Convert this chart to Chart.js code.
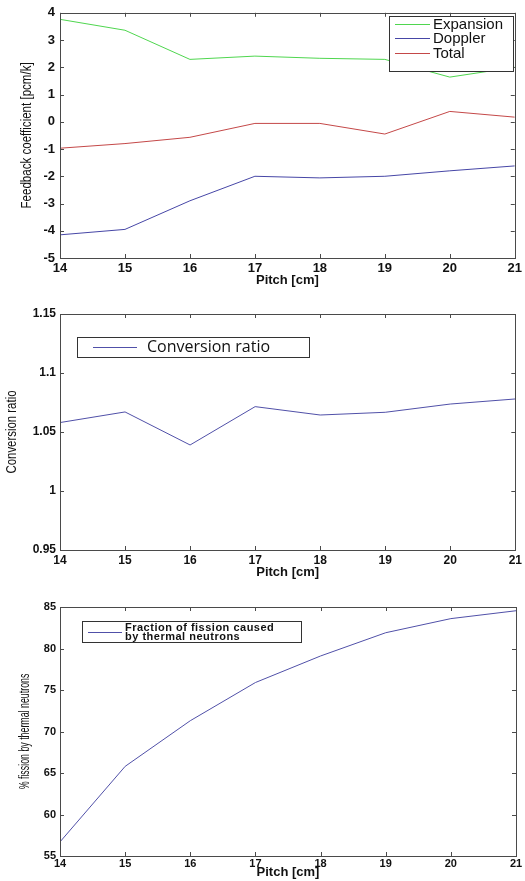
<!DOCTYPE html>
<html>
<head>
<meta charset="utf-8">
<script src="https://cdn.jsdelivr.net/npm/chart.js@4.4.0/dist/chart.umd.min.js"></script>
<style>
  html, body { margin: 0; padding: 0; background: #fff; }
  #wrap { position: relative; width: 525px; height: 881px; }
  .panel { position: absolute; left: 0; width: 525px; }
</style>
</head>
<body>
<div id="wrap">
  <div class="panel" style="top:0;height:290px"><canvas id="feedback"></canvas></div>
  <div class="panel" style="top:290px;height:290px"><canvas id="conversion"></canvas></div>
  <div class="panel" style="top:580px;height:301px"><canvas id="fraction"></canvas></div>
</div>
<script>
"use strict";

// values
const pitch = [14, 15, 16, 17, 18, 19, 20, 21];
const expansion = [3.76, 3.36, 2.29, 2.41, 2.33, 2.29, 1.64, 2.0];
const doppler = [-4.15, -3.95, -2.9, -2.0, -2.06, -2.0, -1.8, -1.62];
const total = [-0.97, -0.8, -0.57, -0.06, -0.06, -0.45, 0.38, 0.17];
const conversionRatio = [1.058, 1.067, 1.039, 1.0715, 1.0644, 1.0667, 1.0737, 1.078];
const thermalFraction = [56.7, 65.8, 71.3, 75.9, 79.1, 81.9, 83.6, 84.55];

const feedbackTicks = [-5, -4, -3, -2, -1, 0, 1, 2, 3, 4];
const conversionTicks = [0.95, 1, 1.05, 1.1, 1.15];
const fractionTicks = [55, 60, 65, 70, 75, 80, 85];

Chart.defaults.font.family = "'Liberation Sans', Arial, sans-serif";
Chart.defaults.color = '#111';

const toPoints = arr => pitch.map((p, i) => ({x: p, y: arr[i]}));

// matlab style box with inward ticks on all four sides
const framePlugin = {
  id: 'frame',
  afterDatasetsDraw(chart) {
    const {ctx, chartArea: a, scales: {x, y}} = chart;
    ctx.save();
    ctx.strokeStyle = '#4a4a4a';
    ctx.lineWidth = 1;
    ctx.strokeRect(Math.round(a.left) + 0.5, Math.round(a.top) + 0.5,
                   Math.round(a.width), Math.round(a.height));
    ctx.beginPath();
    x.ticks.forEach(t => {
      const px = Math.round(x.getPixelForValue(t.value)) + 0.5;
      ctx.moveTo(px, a.bottom); ctx.lineTo(px, a.bottom - 4);
      ctx.moveTo(px, a.top); ctx.lineTo(px, a.top + 4);
    });
    y.ticks.forEach(t => {
      const py = Math.round(y.getPixelForValue(t.value)) + 0.5;
      ctx.moveTo(a.left, py); ctx.lineTo(a.left + 4, py);
      ctx.moveTo(a.right, py); ctx.lineTo(a.right - 4, py);
    });
    ctx.stroke();
    ctx.restore();
  }
};

// narrow rotated y title (the original uses a condensed face)
const narrowTitle = {
  id: 'narrowTitle',
  afterDraw(chart, args, o) {
    if (!o.text) return;
    const {ctx, chartArea: a} = chart;
    ctx.save();
    ctx.translate(o.x, (a.top + a.bottom) / 2);
    ctx.rotate(-Math.PI / 2);
    ctx.scale(o.squeeze, 1);
    ctx.font = o.font;
    ctx.fillStyle = '#111';
    ctx.textAlign = 'center';
    ctx.textBaseline = 'middle';
    ctx.fillText(o.text, 0, 0);
    ctx.restore();
  }
};

// legend drawn inside the plot area
const boxLegend = {
  id: 'boxLegend',
  afterDraw(chart, args, o) {
    if (!o.width) return;
    const {ctx, chartArea: a} = chart;
    const bx = Math.round(a.left + o.left), by = Math.round(a.top + o.top);
    ctx.save();
    ctx.fillStyle = '#fff';
    ctx.fillRect(bx, by, o.width, o.height);
    ctx.strokeStyle = '#333';
    ctx.lineWidth = 1;
    ctx.strokeRect(bx + 0.5, by + 0.5, o.width, o.height);
    ctx.font = o.font;
    ctx.textBaseline = 'middle';
    if (o.letterSpacing) ctx.letterSpacing = o.letterSpacing;
    chart.data.datasets.forEach((ds, i) => {
      const cy = Math.round(by + o.firstRow + i * o.rowHeight) + 0.5;
      ctx.strokeStyle = ds.borderColor;
      ctx.beginPath();
      ctx.moveTo(bx + o.lineStart, cy);
      ctx.lineTo(bx + o.lineStart + o.lineLength, cy);
      ctx.stroke();
      const lines = o.text[i];
      ctx.fillStyle = '#111';
      lines.forEach((t, k) => {
        ctx.fillText(t, bx + o.textStart, cy + (k - (lines.length - 1) / 2) * (o.textLine || 0));
      });
    });
    ctx.restore();
  }
};

function fmt(v) {
  return String(+v.toFixed(2));
}

function makeChart(id, datasets, yTicks, cfg) {
  return new Chart(document.getElementById(id), {
    type: 'line',
    data: {datasets: datasets},
    plugins: [framePlugin, boxLegend, narrowTitle],
    options: {
      responsive: true,
      maintainAspectRatio: false,
      animation: false,
      layout: {padding: cfg.padding},
      elements: {
        line: {borderWidth: 1, tension: 0},
        point: {radius: 0}
      },
      scales: {
        x: {
          type: 'linear',
          min: pitch[0],
          max: pitch[pitch.length - 1],
          grid: {display: false, drawTicks: false},
          border: {display: false},
          afterBuildTicks: s => { s.ticks = pitch.map(v => ({value: v})); },
          afterFit: s => { s.height = cfg.xHeight; },
          ticks: {font: {size: cfg.xTickSize, weight: 'bold'}, padding: cfg.xTickPad, callback: fmt, maxRotation: 0},
          title: {display: true, text: 'Pitch [cm]', font: {size: 13, weight: 'bold'},
                  padding: {top: 0, bottom: cfg.xTitlePad}}
        },
        y: {
          type: 'linear',
          min: yTicks[0],
          max: yTicks[yTicks.length - 1],
          grid: {display: false, drawTicks: false},
          border: {display: false},
          afterBuildTicks: s => { s.ticks = yTicks.map(v => ({value: v})); },
          afterFit: s => { s.width = cfg.yWidth; },
          ticks: {font: {size: cfg.yTickSize, weight: 'bold'}, padding: cfg.yTickPad, callback: fmt}
        }
      },
      plugins: {
        legend: {display: false},
        tooltip: {enabled: false},
        boxLegend: cfg.legend,
        narrowTitle: cfg.yTitle
      }
    }
  });
}

makeChart('feedback', [
  {label: 'Expansion', data: toPoints(expansion), borderColor: '#4fd64f'},
  {label: 'Doppler', data: toPoints(doppler), borderColor: '#4646a6'},
  {label: 'Total', data: toPoints(total), borderColor: '#c44848'}
], feedbackTicks, {
  padding: {left: 0, top: 10, right: 9, bottom: 0},
  yWidth: 60, xHeight: 32,
  xTickSize: 13, xTickPad: 3, xTitlePad: 2,
  yTickSize: 13, yTickPad: 5,
  yTitle: {text: 'Feedback coefficient [pcm/k]', font: '15px "Liberation Sans", Arial, sans-serif', x: 27, squeeze: 0.77},
  legend: {
    left: 329, top: 3, width: 124, height: 55,
    firstRow: 7.5, rowHeight: 14.5, lineStart: 6, lineLength: 35, textStart: 44,
    font: '15px "Liberation Sans", Arial, sans-serif',
    text: [['Expansion'], ['Doppler'], ['Total']]
  }
});

makeChart('conversion', [
  {label: 'Conversion ratio', data: toPoints(conversionRatio), borderColor: '#5050a8'}
], conversionTicks, {
  padding: {left: 0, top: 24, right: 9, bottom: 0},
  yWidth: 60, xHeight: 30,
  xTickSize: 12, xTickPad: 3, xTitlePad: 0,
  yTickSize: 12, yTickPad: 4,
  yTitle: {text: 'Conversion ratio', font: '15px "Liberation Sans", Arial, sans-serif', x: 12, squeeze: 0.76},
  legend: {
    left: 17, top: 23, width: 232, height: 20,
    firstRow: 10, rowHeight: 20, lineStart: 16, lineLength: 44, textStart: 70,
    font: '16px "Open Sans", "Noto Sans", sans-serif',
    text: [['Conversion ratio']]
  }
});

makeChart('fraction', [
  {label: 'Fraction of fission caused by thermal neutrons', data: toPoints(thermalFraction), borderColor: '#5050a8'}
], fractionTicks, {
  padding: {left: 0, top: 27, right: 9, bottom: 0},
  yWidth: 60, xHeight: 25,
  xTickSize: 11, xTickPad: 1, xTitlePad: 1,
  yTickSize: 11, yTickPad: 4,
  yTitle: {text: '% fission by thermal neutrons', font: '14px "Liberation Sans", Arial, sans-serif', x: 25, squeeze: 0.63},
  legend: {
    left: 22, top: 14, width: 219, height: 21,
    firstRow: 10.5, rowHeight: 21, lineStart: 6, lineLength: 34, textStart: 43, textLine: 9.5,
    font: 'bold 11px "Liberation Sans", Arial, sans-serif', letterSpacing: '0.5px',
    text: [['Fraction of fission caused', 'by thermal neutrons']]
  }
});
</script>
</body>
</html>
